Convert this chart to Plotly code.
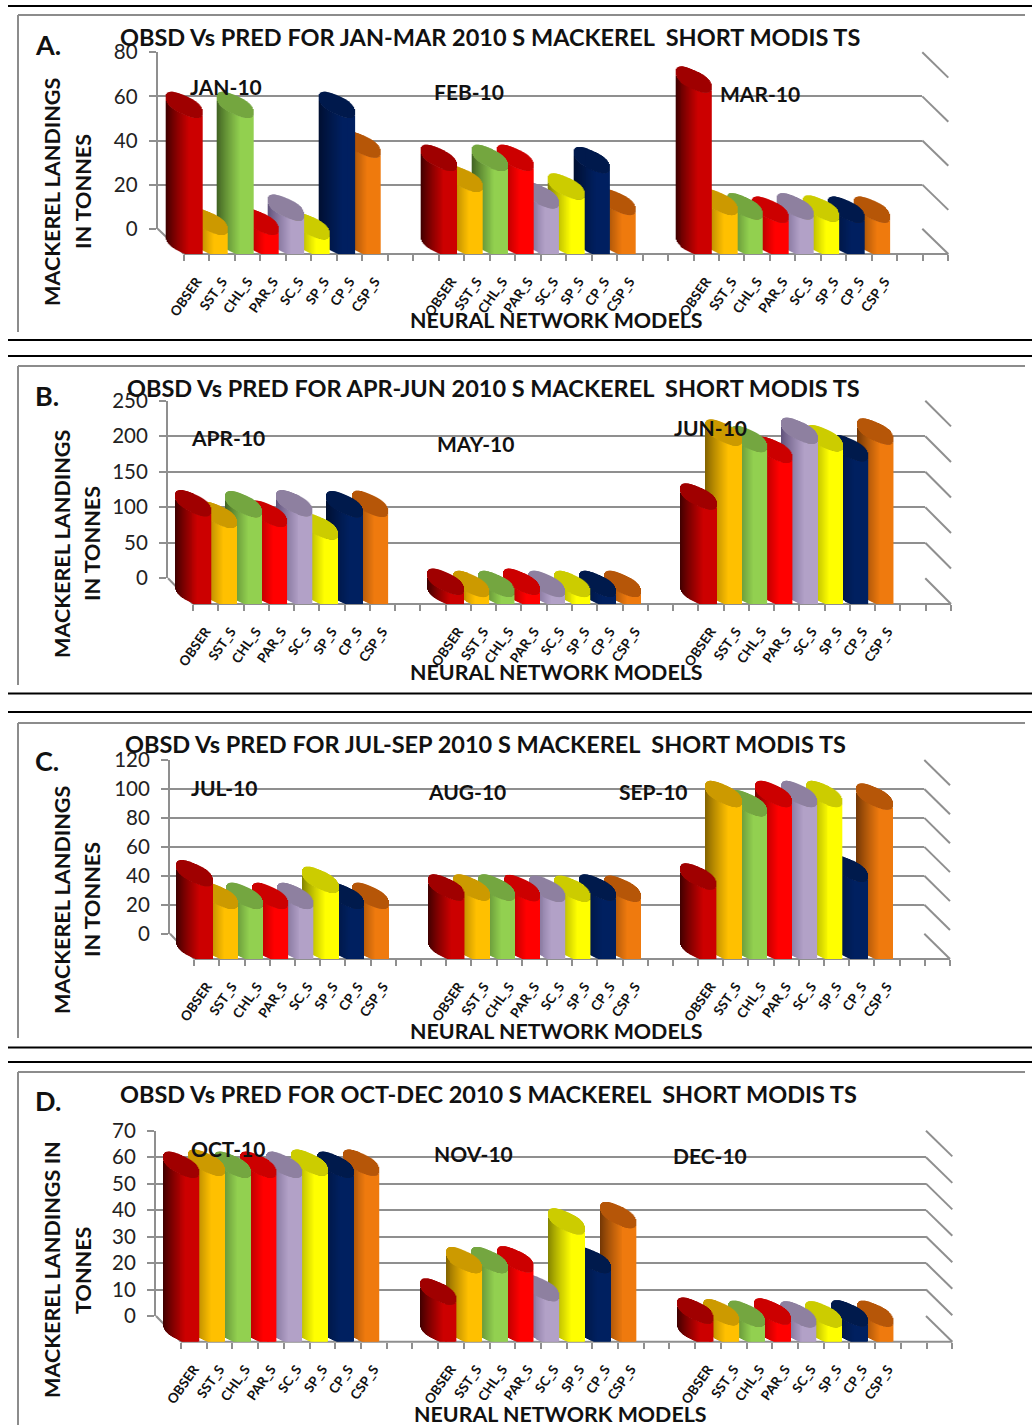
import math
import plotly.graph_objects as go

W, H = 1032, 1427

MODELS = ["OBSER", "SST_S", "CHL_S", "PAR_S", "SC_S", "SP_S", "CP_S", "CSP_S"]

JAN_10 = [63, 10, 63, 10, 16.4, 8, 63, 45]
FEB_10 = [39, 29.5, 39, 39, 22, 26, 38, 19]
MAR_10 = [74.5, 19, 17, 15.5, 17, 16, 15.5, 15.5]
APR_10 = [127.6, 111.2, 126.2, 112.6, 127.6, 94.8, 126.2, 126.7]
MAY_10 = [17, 14, 14, 17, 14, 14, 14, 14]
JUN_10 = [137, 227, 218, 202.7, 229.5, 219, 205, 228.5]
JUL_10 = [52.3, 36.6, 36.6, 36.6, 36.6, 47.7, 36.6, 36.6]
AUG_10 = [42.4, 42.4, 42.4, 42, 41.5, 41.5, 42.4, 41.5]
SEP_10 = [50, 107, 100.6, 107, 107, 107, 55.3, 105.2]
OCT_10 = [63, 63.8, 63, 63, 63, 63.8, 63, 63.8]
NOV_10 = [15.1, 27, 27, 27.3, 16.4, 41.6, 27, 44]
DEC_10 = [7.9, 7.3, 6.7, 7.6, 6.5, 6.5, 6.9, 6.7]

TICKS_A = [0, 20, 40, 60, 80]
TICKS_B = [0, 50, 100, 150, 200, 250]
TICKS_C = [0, 20, 40, 60, 80, 100, 120]
TICKS_D = [0, 10, 20, 30, 40, 50, 60, 70]

DARK = ["#3c0000", "#7f6000", "#3f5f22", "#7a0000", "#5e5078", "#808000", "#000f30", "#703505"]
BRIGHT = ["#cc0000", "#ffc000", "#92d050", "#ff0000", "#b2a1c7", "#ffff00", "#002060", "#ef7a0e"]
CAP = ["#a00000", "#cc9a00", "#74a640", "#cc0000", "#8e80a0", "#cccc00", "#001a4c", "#b65608"]

GRID = "#8f8f8f"
FONT = "Lato"

PANELS = [
    dict(letter="A.", ly=44, title="OBSD Vs PRED FOR JAN-MAR 2010 S MACKEREL\u00a0 SHORT MODIS TS",
         tx=118, ty=37, months=[("JAN-10", JAN_10, 226, 87), ("FEB-10", FEB_10, 469, 92), ("MAR-10", MAR_10, 760, 94)],
         ticks=TICKS_A, top=52.3, zero=228.7, wall=157.7, floor=254, fx0=184, fx1=948.3, gend=922.3,
         ylines=["MACKEREL LANDINGS", "IN TONNES"], yx=[52, 83], yc=192, xtx=556, xty=320,
         frame=(15, 332), rule=(6, 340)),
    dict(letter="B.", ly=395, title="OBSD Vs PRED FOR APR-JUN 2010 S MACKEREL\u00a0 SHORT MODIS TS",
         tx=125, ty=388, months=[("APR-10", APR_10, 228, 437), ("MAY-10", MAY_10, 475, 443), ("JUN-10", JUN_10, 710, 428)],
         ticks=TICKS_B, top=400.7, zero=578.3, wall=168, floor=604, fx0=193, fx1=951, gend=925.3,
         ylines=["MACKEREL LANDINGS", "IN TONNES"], yx=[62, 92], yc=544, xtx=556, xty=672,
         frame=(366, 685), rule=(356, 693.5)),
    dict(letter="C.", ly=761, title="OBSD Vs PRED FOR JUL-SEP 2010 S MACKEREL\u00a0 SHORT MODIS TS",
         tx=123, ty=744, months=[("JUL-10", JUL_10, 224, 787), ("AUG-10", AUG_10, 467, 791), ("SEP-10", SEP_10, 653, 791)],
         ticks=TICKS_C, top=760, zero=933.7, wall=170, floor=959, fx0=194.3, fx1=950, gend=924.3,
         ylines=["MACKEREL LANDINGS", "IN TONNES"], yx=[62, 92], yc=900, xtx=556, xty=1031,
         frame=(723, 1038), rule=(712, 1047.5)),
    dict(letter="D.", ly=1100, title="OBSD Vs PRED FOR OCT-DEC 2010 S MACKEREL\u00a0 SHORT MODIS TS",
         tx=118, ty=1094, months=[("OCT-10", OCT_10, 228, 1148), ("NOV-10", NOV_10, 473, 1153), ("DEC-10", DEC_10, 710, 1155)],
         ticks=TICKS_D, top=1130.7, zero=1316, wall=156, floor=1341.7, fx0=181, fx1=952.3, gend=926,
         ylines=["MACKEREL LANDINGS IN", "TONNES"], yx=[52, 83], yc=1270, xtx=560, xty=1414,
         frame=(1072, 1425), rule=(1062, None)),
]


def px(x):
    return x / W


def py(y):
    return 1 - y / H


def mix(a, b, t):
    ca = [int(a[i:i + 2], 16) for i in (1, 3, 5)]
    cb = [int(b[i:i + 2], 16) for i in (1, 3, 5)]
    return "#" + "".join(f"{round(p + (q - p) * t):02x}" for p, q in zip(ca, cb))


def gline(x0, y0, x1, y1, color=GRID, width=2):
    return dict(type="line", xref="paper", yref="paper", layer="below",
                x0=px(x0), y0=py(y0), x1=px(x1), y1=py(y1), line=dict(color=color, width=width))


fig = go.Figure()
shapes, annotations = [], []
layout = {}
NSTRIP = 36
BAR_W = 35.5      # silhouette width, px
RIGHT_OFF = 18    # right edge past the cell's left tick, px
SLOPE = 0.43      # shear of the cylinder ends, px per px
THICK = 9.5       # half thickness of the end ellipses, px
END_ARC = 2.5     # half thickness left at the ends of the ellipse, px
HEADROOM = 1.25   # the front-plane axis runs on above the wall so caps are not clamped


def text(s, x, y, size, anchor="center", angle=0):
    annotations.append(dict(text=f"<b>{s}</b>", x=px(x), y=py(y), xref="paper", yref="paper",
                            xanchor=anchor, yanchor="middle", showarrow=False, textangle=angle,
                            font=dict(family=FONT, size=size, color="#111111")))


for n, p in enumerate(PANELS):
    gid, bid = 2 * n + 1, 2 * n + 2
    ymax = p["ticks"][-1]
    scale = (p["zero"] - p["top"]) / ymax
    cell = (p["fx1"] - p["fx0"]) / 30
    dom_left = p["wall"]

    # back wall: gridlines and value axis
    layout[f"xaxis{gid}"] = dict(domain=[px(p["wall"]), px(p["gend"])], range=[0, 1], visible=False,
                                 anchor=f"y{gid}", fixedrange=True, automargin=False)
    layout[f"yaxis{gid}"] = dict(domain=[py(p["zero"]), py(p["top"])], range=[0, ymax], anchor=f"x{gid}",
                                 tickvals=p["ticks"], ticktext=[str(t) for t in p["ticks"]],
                                 ticks="outside", ticklen=7, tickwidth=2, tickcolor=GRID,
                                 showgrid=True, gridcolor=GRID, gridwidth=2, zeroline=False, automargin=False,
                                 showline=True, linecolor=GRID, linewidth=2, ticklabelstandoff=7,
                                 tickfont=dict(family=FONT, size=20.5, color="#222222"), fixedrange=True)
    fig.add_trace(go.Scatter(x=[0, 1], y=[0, 0], mode="markers", marker=dict(opacity=0), hoverinfo="skip",
                             showlegend=False, xaxis=f"x{gid}", yaxis=f"y{gid}"))

    # front plane: the cylinders
    left_val = (dom_left - p["fx0"]) / cell - 0.5
    layout[f"xaxis{bid}"] = dict(domain=[px(dom_left), px(p["fx1"])], range=[left_val, 29.5], anchor=f"y{bid}",
                                 tickvals=[g * 10 + i for g in range(3) for i in range(8)],
                                 ticktext=[f"<b>{m}</b>" for m in MODELS] * 3, tickangle=-55, ticks="",
                                 showgrid=False, zeroline=False, automargin=False,
                                 showline=False, ticklabelstandoff=16,
                                 tickfont=dict(family=FONT, size=13.5, color="#111111", weight=700),
                                 minor=dict(tickmode="array", tickvals=[k - 0.5 for k in range(31)], ticks="outside",
                                            ticklen=6, tickwidth=2, tickcolor=GRID, showgrid=False),
                                 fixedrange=True)
    span = (p["zero"] - p["top"]) * HEADROOM
    layout[f"yaxis{bid}"] = dict(domain=[py(p["floor"]), py(p["floor"] - span)], range=[0, ymax * HEADROOM],
                                 anchor=f"x{bid}", visible=False, showgrid=False, zeroline=False, fixedrange=True,
                                 automargin=False)

    for s in reversed(range(len(MODELS))):
        xs, ys, bs, cs = [], [], [], []
        for g, (_, vals, _, _) in enumerate(p["months"]):
            v = vals[s]
            xr = p["fx0"] + (g * 10 + s) * cell + RIGHT_OFF
            xl = xr - BAR_W
            side, cap = [], []
            for k in range(NSTRIP):
                t = (k + 0.5) / NSTRIP
                x = xl + t * BAR_W
                u = abs(2 * t - 1)
                arc = max(END_ARC, THICK * (1 - u ** 2.6) ** (1 / 2.6))
                rise = SLOPE * (xr - x) + END_ARC
                lo = rise - arc
                hi = rise + arc
                f = min(1, t / 0.65) ** 0.85
                dv = (x - p["fx0"]) / cell - 0.5
                base_lo = max(0, lo)
                side.append((dv, v + (lo - base_lo) / scale, base_lo / scale, mix(DARK[s], BRIGHT[s], f)))
                cap.append((dv, (hi - lo) / scale, v + lo / scale, CAP[s]))
            for dv, hgt, b, c in side + cap:
                xs.append(dv)
                ys.append(hgt)
                bs.append(b)
                cs.append(c)
        fig.add_trace(go.Bar(x=xs, y=ys, base=bs, width=1.5 / cell, name=MODELS[s], showlegend=False,
                             marker=dict(color=cs, line=dict(width=0)), hoverinfo="skip", cliponaxis=False,
                             xaxis=f"x{bid}", yaxis=f"y{bid}"))

    # 3-D decoration of the chart box
    depth_x = p["fx1"] - p["gend"]
    depth_y = p["floor"] - p["zero"]
    for t in p["ticks"]:
        yy = p["zero"] - t * scale
        shapes.append(gline(p["gend"], yy, p["gend"] + depth_x, yy + depth_y))
    shapes.append(gline(p["fx0"], p["floor"], p["fx1"], p["floor"]))
    shapes.append(gline(p["wall"], p["zero"], p["fx0"], p["floor"]))

    # panel frame and rules
    shapes.append(gline(18, p["frame"][0], 1025, p["frame"][0], "#8c8c8c", 2))
    shapes.append(gline(18, p["frame"][0], 18, p["frame"][1], "#8c8c8c", 2))
    for r in p["rule"]:
        if r is not None:
            shapes.append(gline(8, r, 1032, r, "#000000", 2))

    # texts
    text(p["letter"], 33, p["ly"], 27, anchor="left")
    text(p["title"], p["tx"], p["ty"], 23.5, anchor="left")
    for name, _, mx, my in p["months"]:
        text(name, mx, my, 21)
    for line, x in zip(p["ylines"], p["yx"]):
        text(line, x, p["yc"], 21.6, angle=-90)
    text("NEURAL NETWORK MODELS", p["xtx"], p["xty"], 21.4)

fig.update_layout(width=W, height=H, margin=dict(l=0, r=0, t=0, b=0, pad=0, autoexpand=False), barmode="overlay",
                  paper_bgcolor="white", plot_bgcolor="rgba(0,0,0,0)", showlegend=False,
                  shapes=shapes, annotations=annotations, **layout)
fig.write_html("out.html", config=dict(displayModeBar=False),
               post_script="document.body.style.margin='0';")
